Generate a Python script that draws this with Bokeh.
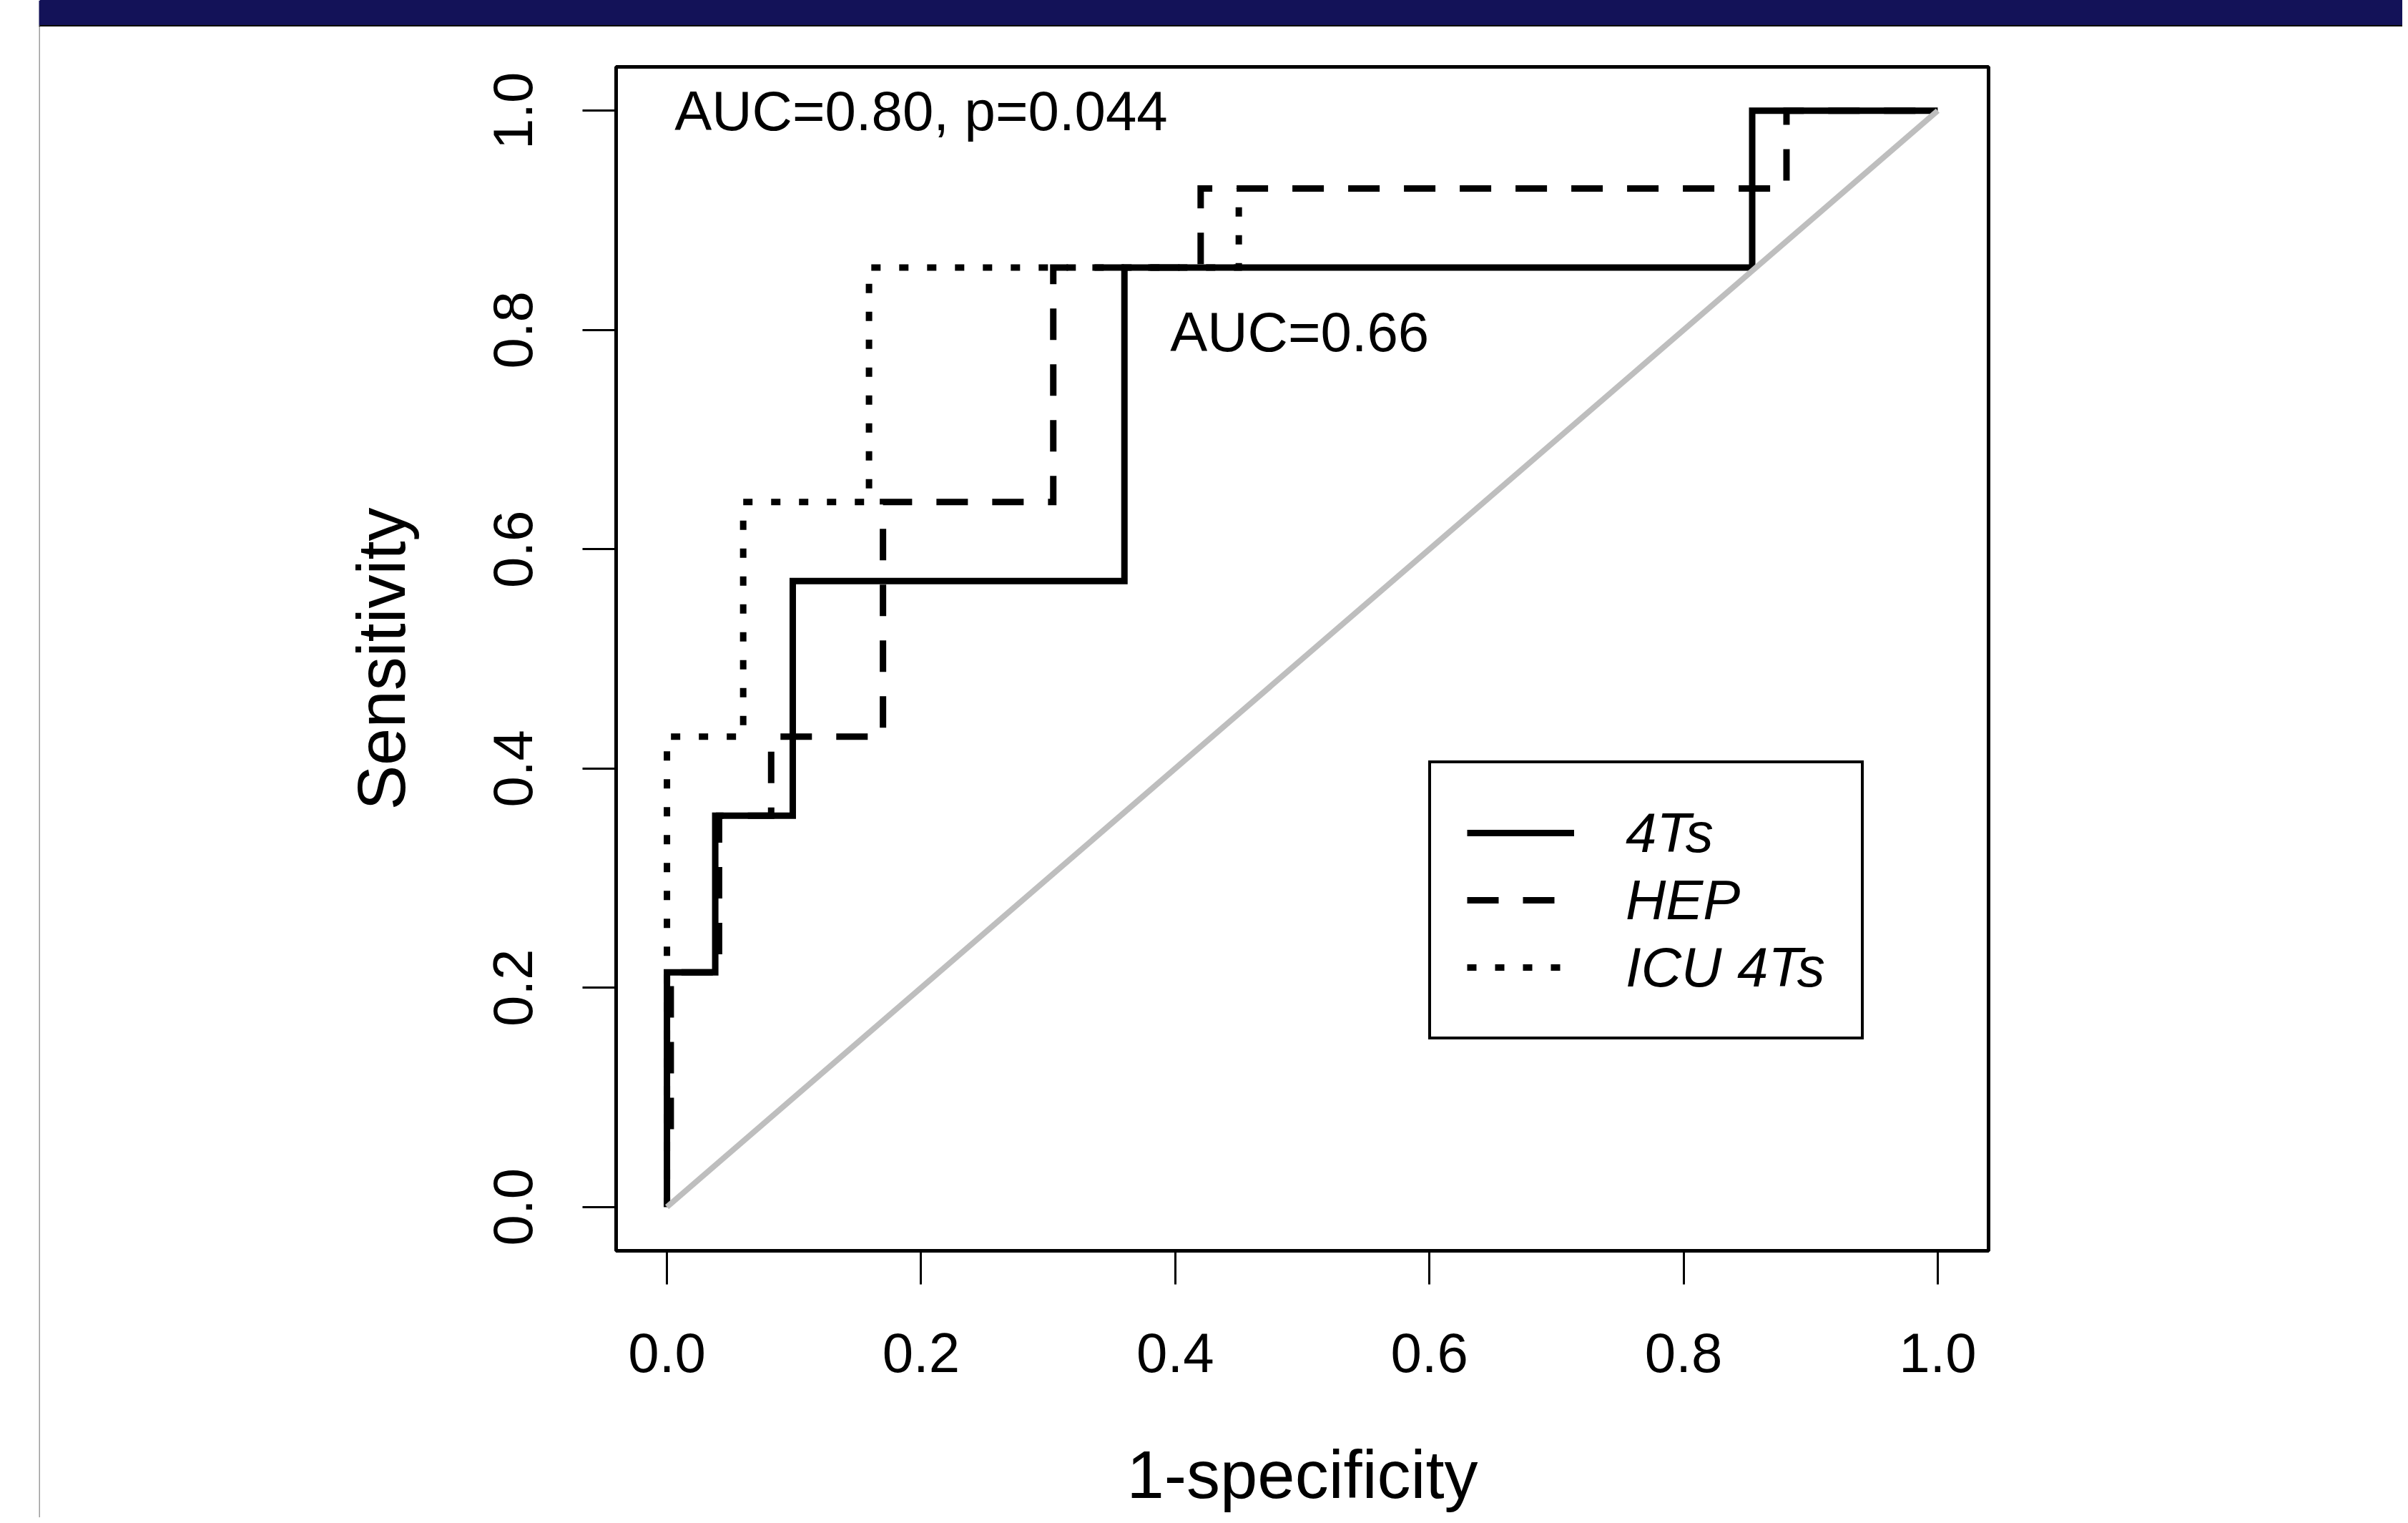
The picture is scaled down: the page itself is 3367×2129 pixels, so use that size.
import math
from bokeh.plotting import figure
from bokeh.layouts import row, column
from bokeh.models import (Range1d, FixedTicker, NumeralTickFormatter, Label,
                          Legend, LegendItem, Div)
from bokeh.core.properties import value
from bokeh.embed import file_html
from bokeh.resources import INLINE

# ---------------- data ----------------
fpr_4ts = [0.0, 0.0, 0.038, 0.038, 0.099, 0.099, 0.360, 0.360, 0.854, 0.854, 1.0]
tpr_4ts = [0.0, 0.214, 0.214, 0.357, 0.357, 0.571, 0.571, 0.857, 0.857, 1.0, 1.0]

fpr_hep = [0.003, 0.003, 0.041, 0.041, 0.082, 0.082, 0.170, 0.170, 0.304, 0.304,
           0.420, 0.420, 0.881, 0.881, 1.0]
tpr_hep = [0.071, 0.214, 0.214, 0.357, 0.357, 0.429, 0.429, 0.643, 0.643, 0.857,
           0.857, 0.929, 0.929, 1.0, 1.0]

fpr_icu = [0.0, 0.0, 0.060, 0.060, 0.159, 0.159, 0.450, 0.450]
tpr_icu = [0.0, 0.429, 0.429, 0.643, 0.643, 0.857, 0.857, 0.929]

diag_x = [0.0, 1.0]
diag_y = [0.0, 1.0]

x_ticks = [0.0, 0.2, 0.4, 0.6, 0.8, 1.0]
y_ticks = [0.0, 0.2, 0.4, 0.6, 0.8, 1.0]
series_names = ["4Ts", "HEP", "ICU 4Ts"]
auc_texts = ["AUC=0.80, p=0.044", "AUC=0.66"]
x_title = "1-specificity"
y_title = "Sensitivity"

# ---------------- page geometry (pixels) ----------------
WT, HT = 3359, 2121          # whole page content
SX, SY = 56, 37              # left strip width, header height
WM = WT - SX                 # width of the right column
TITLE_TOP = 1963             # where the x-title strip starts
HM = TITLE_TOP - SY          # main figure height
HTITLE = HT - TITLE_TOP
RL, RR, RT, RB = 861, 2780, 93, 1748   # plot box on the page

FONT = "Liberation Sans"
NAVY = "#131258"


def blank(width, height, **kw):
    f = figure(width=width, height=height, output_backend="svg", toolbar_location=None,
               x_axis_type=None, y_axis_type=None, min_border=0, **kw)
    f.outline_line_color = None
    f.grid.visible = False
    return f


# left strip: thin grey rule under the header
strip = blank(SX, HT, x_range=Range1d(0, SX), y_range=Range1d(HT, 0),
              background_fill_color="white", border_fill_color="white")
strip.quad(left=[SX - 2], right=[SX], top=[0], bottom=[SY - 2], fill_color=NAVY, line_color=None)
strip.quad(left=[SX - 2], right=[SX], top=[SY - 2], bottom=[SY], fill_color="black", line_color=None)
strip.quad(left=[SX - 2], right=[SX], top=[SY], bottom=[HT], fill_color="#9c9c9c", line_color=None)

# header bar
header = Div(text="", width=WM, height=SY,
             styles={"background-color": NAVY, "border-bottom": "2px solid #000000",
                     "box-sizing": "border-box", "margin": "0", "padding": "0"})

# ---------------- main plot ----------------
X0, X1, Y0, Y1 = -0.04, 1.04, -0.04, 1.04
p = figure(width=WM, height=HM, output_backend="svg", toolbar_location=None,
           x_range=Range1d(X0, X1), y_range=Range1d(Y0, Y1),
           min_border_left=RL - SX, min_border_right=WM - (RR - SX),
           min_border_top=RT - SY, min_border_bottom=HM - (RB - SY),
           background_fill_color="white", border_fill_color="white")
p.grid.visible = False
p.outline_line_color = "black"
p.outline_line_width = 5

for ax, ticks in ((p.xaxis[0], x_ticks), (p.yaxis[0], y_ticks)):
    ax.ticker = FixedTicker(ticks=ticks)
    ax.formatter = NumeralTickFormatter(format="0.0")
    ax.axis_line_color = None
    ax.major_tick_out = 47
    ax.major_tick_in = 0
    ax.major_tick_line_width = 3
    ax.major_tick_line_color = "black"
    ax.minor_tick_line_color = None
    ax.major_label_text_font = FONT
    ax.major_label_text_font_size = "78px"
    ax.major_label_text_color = "black"
p.xaxis[0].major_label_standoff = 68
p.yaxis[0].major_label_standoff = 70
p.yaxis[0].major_label_orientation = "vertical"
p.yaxis[0].axis_label = y_title
p.yaxis[0].axis_label_text_font = FONT
p.yaxis[0].axis_label_text_font_size = "94px"
p.yaxis[0].axis_label_text_font_style = "normal"
p.yaxis[0].axis_label_text_color = "black"
p.yaxis[0].axis_label_standoff = 102

r_4ts = p.line(fpr_4ts, tpr_4ts, line_color="black", line_width=9, line_join="miter")
r_hep = p.line(fpr_hep, tpr_hep, line_color="black", line_width=9, line_join="miter",
               line_dash="44 34")
r_icu = p.line(fpr_icu, tpr_icu, line_color="black", line_width=9, line_join="miter",
               line_dash="13 26")
p.line(diag_x, diag_y, line_color="#BEBEBE", line_width=8)

legend = Legend(items=[LegendItem(label=series_names[0], renderers=[r_4ts]),
                       LegendItem(label=series_names[1], renderers=[r_hep]),
                       LegendItem(label=series_names[2], renderers=[r_icu])],
                location=(1997 - RL, RB - 1453), margin=0, padding=50, spacing=0,
                glyph_width=150, glyph_height=94, label_height=94, label_standoff=72,
                label_text_font=FONT, label_text_font_style="italic",
                label_text_font_size="78px", label_text_color="black",
                border_line_color="black", border_line_width=4, border_line_alpha=1.0,
                background_fill_color="white", background_fill_alpha=1.0)
p.add_layout(legend, "center")

p.add_layout(Label(x=0.006, y=1.0, text=auc_texts[0], text_align="left",
                   text_baseline="middle", text_font=FONT, text_font_size="78px",
                   text_color="black"))
p.add_layout(Label(x=0.396, y=0.798, text=auc_texts[1], text_align="left",
                   text_baseline="middle", text_font=FONT, text_font_size="78px",
                   text_color="black"))

# ---------------- x-axis title strip ----------------
t = blank(WM, HTITLE, x_range=p.x_range, y_range=Range1d(HTITLE, 0),
          background_fill_color="white", border_fill_color="white")
t.min_border_left = RL - SX
t.min_border_right = WM - (RR - SX)
t.text(x=[0.5], y=[2113 - TITLE_TOP - 52], text=[x_title], text_align="center",
       text_baseline="alphabetic", text_font=value(FONT), text_font_size="94px",
       text_color="black")

layout = row(strip, column(header, p, t, spacing=0), spacing=0)
open("out.html", "w").write(file_html(layout, INLINE))
